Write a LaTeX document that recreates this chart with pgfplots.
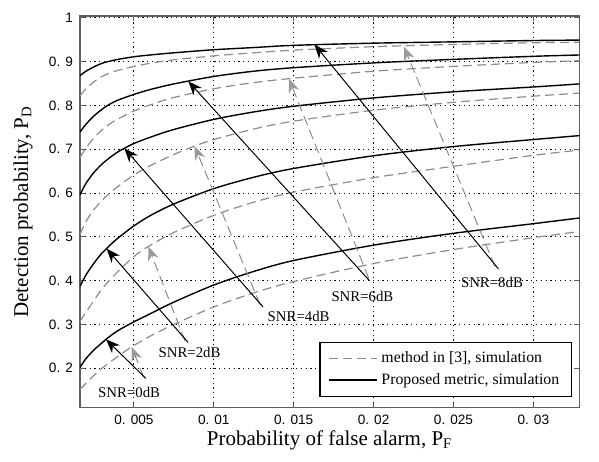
\documentclass[border=0pt]{standalone}
\usepackage{fontspec}
\setmainfont{Liberation Serif}
\newfontfamily\ticksf{Liberation Sans}
\usepackage{pgfplots}
\pgfplotsset{compat=1.18}
\usetikzlibrary{arrows.meta}

\definecolor{simgray}{RGB}{140,140,140}
\definecolor{headgray}{RGB}{155,155,155}
\definecolor{boxgray}{RGB}{95,95,95}

\pgfplotsset{
  prop/.style={black, line width=0.7pt, no marks},
  meth/.style={simgray, line width=0.6pt, dash pattern=on 4.5pt off 2.5pt, no marks},
  parr/.style={black, line width=0.5pt, no marks, -{Stealth[length=7pt,width=5.5pt,inset=2.2pt]}},
  marr/.style={simgray, line width=0.5pt, no marks, dash pattern=on 5pt off 2.5pt,
    -{Stealth[length=7pt,width=5.5pt,inset=2.2pt,color=headgray]}},
}

\begin{document}
\begin{tikzpicture}
  \path[use as bounding box] (-40pt,-26.65pt) rectangle (259.5pt,203.85pt);
  \begin{axis}[
      width=249.65pt, height=195.85pt, scale only axis,
      xmin=0.001625, xmax=0.032875, ymin=0.11, ymax=1.004,
      scaled x ticks=false, scaled y ticks=false,
      xtick={0.005,0.01,0.015,0.02,0.025,0.03},
      xticklabels={0. 005,0. 01,0. 015,0. 02,0. 025,0. 03},
      ytick={0.2,0.3,0.4,0.5,0.6,0.7,0.8,0.9,1},
      yticklabels={0. 2,0. 3,0. 4,0. 5,0. 6,0. 7,0. 8,0. 9,1},
      tick label style={font=\ticksf\fontsize{6.8}{8}\selectfont},
      tick align=inside, major tick length=2.5pt,
      tick style={boxgray, line width=0.5pt},
      axis line style={boxgray, line width=0.6pt},
      grid=major, grid style={black, line width=0.5pt, dash pattern=on 0.6pt off 1.8pt},
      xlabel={Probability of false alarm, P\textsubscript{F}},
      ylabel={Detection probability, P\textsubscript{D}},
      label style={font=\fontsize{10.5}{12}\selectfont},
      xlabel style={at={(axis description cs:0.5,-0.0825)}, anchor=center},
      ylabel style={at={(axis description cs:-0.114,0.5)}, anchor=center},
      legend style={at={(0.985,0.028)}, anchor=south east, draw=black, line width=0.6pt,
        fill=white, font=\fontsize{7.9}{10}\selectfont, inner xsep=4pt, inner ysep=2.5pt,
        cells={anchor=west}},
      legend image code/.code={\draw[#1] (0pt,0pt) -- (24pt,0pt);},
    ]
    \addlegendimage{meth}
    \addlegendentry{method in [3], simulation}
    \addlegendimage{prop}
    \addlegendentry{Proposed metric, simulation}

    % method in [3], simulation (dashed gray), SNR = 0, 2, 4, 6, 8 dB
    \addplot[meth, smooth, forget plot] coordinates {
      (0.001625,0.152) (0.002,0.166) (0.0025,0.184) (0.003,0.200) (0.0035,0.214)
      (0.004,0.227) (0.00486,0.249) (0.006,0.273) (0.0075,0.300) (0.01,0.340)
      (0.0125,0.372) (0.015,0.398) (0.02,0.439) (0.025,0.471) (0.03,0.498)
      (0.032875,0.512)};
    \addplot[meth, smooth, forget plot] coordinates {
      (0.001625,0.307) (0.002,0.328) (0.0025,0.355) (0.003,0.381) (0.0035,0.402)
      (0.004,0.421) (0.005,0.455) (0.0059,0.478) (0.0075,0.510) (0.01,0.549)
      (0.0125,0.579) (0.015,0.602) (0.02,0.635) (0.025,0.661) (0.03,0.686)
      (0.032875,0.698)};
    \addplot[meth, smooth, forget plot] coordinates {
      (0.001625,0.505) (0.002,0.535) (0.0025,0.562) (0.003,0.583) (0.0035,0.600)
      (0.004,0.615) (0.005,0.641) (0.006,0.662) (0.0075,0.688) (0.0088,0.707)
      (0.01,0.722) (0.0125,0.746) (0.015,0.764) (0.02,0.789) (0.025,0.807)
      (0.03,0.821) (0.032875,0.828)};
    \addplot[meth, smooth, forget plot] coordinates {
      (0.001625,0.681) (0.002,0.703) (0.0025,0.726) (0.003,0.744) (0.0035,0.758)
      (0.004,0.769) (0.005,0.787) (0.006,0.801) (0.0075,0.818) (0.01,0.838)
      (0.0125,0.852) (0.015,0.862) (0.02,0.878) (0.025,0.889) (0.03,0.898)
      (0.032875,0.902)};
    \addplot[meth, smooth, forget plot] coordinates {
      (0.001625,0.822) (0.002,0.838) (0.0025,0.854) (0.003,0.866) (0.0035,0.874)
      (0.004,0.880) (0.005,0.889) (0.006,0.896) (0.0075,0.904) (0.01,0.913)
      (0.0125,0.920) (0.015,0.926) (0.02,0.934) (0.025,0.939) (0.03,0.943)
      (0.032875,0.944)};

    % proposed metric, simulation (solid black), SNR = 0, 2, 4, 6, 8 dB
    \addplot[prop, smooth, forget plot] coordinates {
      (0.001625,0.202) (0.002,0.222) (0.0025,0.242) (0.003,0.258) (0.00325,0.266)
      (0.0035,0.273) (0.004,0.286) (0.005,0.306) (0.006,0.324) (0.0075,0.351)
      (0.01,0.390) (0.0125,0.421) (0.015,0.446) (0.02,0.481) (0.025,0.508)
      (0.03,0.530) (0.032875,0.543)};
    \addplot[prop, smooth, forget plot] coordinates {
      (0.001625,0.387) (0.002,0.413) (0.0025,0.440) (0.003,0.463) (0.00329,0.473)
      (0.0035,0.481) (0.004,0.497) (0.005,0.525) (0.006,0.548) (0.0075,0.575)
      (0.01,0.610) (0.0125,0.636) (0.015,0.656) (0.02,0.685) (0.025,0.706)
      (0.03,0.722) (0.032875,0.731)};
    \addplot[prop, smooth, forget plot] coordinates {
      (0.001625,0.596) (0.002,0.622) (0.0025,0.647) (0.003,0.666) (0.0035,0.681)
      (0.004,0.694) (0.0044,0.702) (0.005,0.713) (0.006,0.727) (0.0075,0.745)
      (0.01,0.768) (0.0125,0.785) (0.015,0.798) (0.02,0.817) (0.025,0.831)
      (0.03,0.842) (0.032875,0.849)};
    \addplot[prop, smooth, forget plot] coordinates {
      (0.001625,0.739) (0.002,0.757) (0.0025,0.776) (0.003,0.791) (0.0035,0.803)
      (0.004,0.812) (0.005,0.825) (0.006,0.836) (0.0075,0.849) (0.01,0.866)
      (0.0125,0.878) (0.015,0.886) (0.02,0.897) (0.025,0.905) (0.03,0.912)
      (0.032875,0.915)};
    \addplot[prop, smooth, forget plot] coordinates {
      (0.001625,0.868) (0.002,0.878) (0.0025,0.888) (0.003,0.896) (0.0035,0.901)
      (0.004,0.905) (0.005,0.911) (0.006,0.915) (0.0075,0.920) (0.01,0.927)
      (0.0125,0.932) (0.015,0.937) (0.02,0.942) (0.025,0.945) (0.03,0.948)
      (0.032875,0.949)};

    % annotation arrows (tail -> tip)
    \addplot[marr, forget plot] coordinates {(0.0056,0.180) (0.00486,0.249)};
    \addplot[marr, forget plot] coordinates {(0.0082,0.262) (0.0059,0.478)};
    \addplot[marr, forget plot] coordinates {(0.0129,0.345) (0.0088,0.707)};
    \addplot[marr, forget plot] coordinates {(0.0197,0.405) (0.0147,0.861)};
    \addplot[marr, forget plot] coordinates {(0.0276,0.432) (0.0219,0.934)};
    \addplot[parr, forget plot] coordinates {(0.00574,0.177) (0.00325,0.266)};
    \addplot[parr, forget plot] coordinates {(0.00839,0.259) (0.00329,0.473)};
    \addplot[parr, forget plot] coordinates {(0.01308,0.340) (0.0044,0.702)};
    \addplot[parr, forget plot] coordinates {(0.01974,0.400) (0.0084,0.855)};
    \addplot[parr, forget plot] coordinates {(0.02781,0.427) (0.0163,0.939)};

    \begin{scope}[every node/.style={font=\fontsize{7.4}{9}\selectfont, inner sep=0.5pt}]
      \node at (axis cs:0.00470,0.144) {SNR=0dB};
      \node at (axis cs:0.00848,0.236) {SNR=2dB};
      \node at (axis cs:0.01531,0.318) {SNR=4dB};
      \node at (axis cs:0.01930,0.363) {SNR=6dB};
      \node at (axis cs:0.02741,0.395) {SNR=8dB};
    \end{scope}
  \end{axis}
\end{tikzpicture}
\end{document}
